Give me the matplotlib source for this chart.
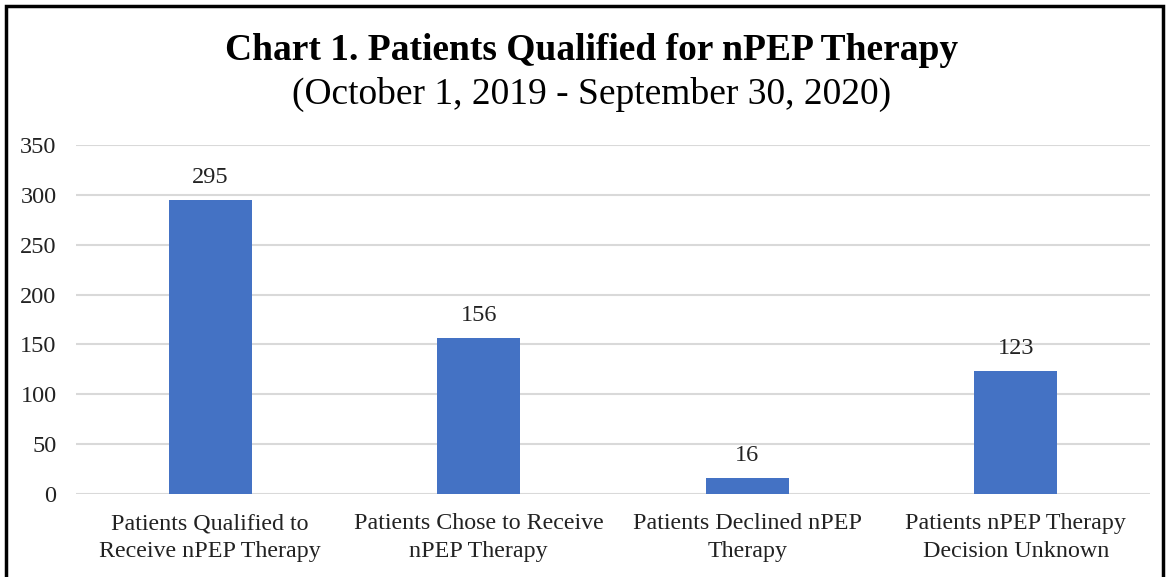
import numpy as np
import matplotlib
matplotlib.use("Agg")
import matplotlib.pyplot as plt
from matplotlib.patches import Rectangle

categorias = ["Patients Qualified to\nReceive nPEP Therapy",
              "Patients Chose to Receive\nnPEP Therapy",
              "Patients Declined nPEP\nTherapy",
              "Patients nPEP Therapy\nDecision Unknown"]
valores = [295, 156, 16, 123]
yticks = [0, 50, 100, 150, 200, 250, 300, 350]

plt.rcParams['font.family'] = ['Liberation Serif', 'DejaVu Serif']

fig = plt.figure(figsize=(11.67, 5.77), dpi=100)
ax = fig.add_axes([0.0651, 0.1438, 0.9203, 0.6049])

x = np.arange(len(categorias))
ax.bar(x, valores, width=0.31, color="#4472C4", zorder=3)
for xi, v in zip(x, valores):
    ax.text(xi, v + 12, str(v), ha="center", va="bottom", fontsize=17.5, color="#222222")

ax.set_xlim(-0.5, 3.5)
ax.set_ylim(0, 350)
ax.set_yticks(yticks)
ax.set_xticks(x)
ax.set_xticklabels(categorias, fontsize=17.3, color="#222222", linespacing=1.4)
ax.tick_params(axis="y", labelsize=17.5, colors="#222222", length=0, pad=14)
ax.tick_params(axis="x", length=0, pad=14)
ax.grid(axis="y", color="#D9D9D9", linewidth=1.5, zorder=0)
for s in ax.spines.values():
    s.set_visible(False)

fig.text(0.507, 0.913, "Chart 1. Patients Qualified for nPEP Therapy",
         ha="center", va="center", fontsize=27, fontweight="bold")
fig.text(0.507, 0.837, "(October 1, 2019 - September 30, 2020)",
         ha="center", va="center", fontsize=27)

fig.patches.append(Rectangle((6 / 1167, -0.02), 1157 / 1167, 1 - 6 / 577 + 0.02,
                             transform=fig.transFigure, fill=False,
                             edgecolor="black", linewidth=2.5))

plt.savefig("out.png", dpi=100)
